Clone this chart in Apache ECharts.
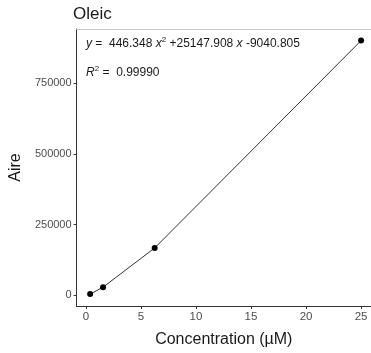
<!DOCTYPE html>
<html><head><meta charset="utf-8">
<script src="https://cdn.jsdelivr.net/npm/echarts@6/dist/echarts.min.js"></script>
<style>html,body{margin:0;padding:0;background:#fff}#c{width:371px;height:353px}</style>
</head><body><div id="c"></div>
<script>
const concentrations = [0.390625, 1.5625, 6.25, 25];
const areas = [4000, 28500, 167000, 900000];
const xTicks = [0, 5, 10, 15, 20, 25];
const yTicks = [0, 250000, 500000, 750000];
const chartTitle = 'Oleic';
const xTitle = 'Concentration (µM)';
const yTitle = 'Aire';

const chart = echarts.init(document.getElementById('c'), null, {renderer: 'canvas'});
const font = 'Liberation Sans, Arial, sans-serif';
const supStyle = {
  i: {fontStyle: 'italic', fontSize: 12, fontFamily: font, fill: '#1a1a1a'},
  s: {fontSize: 8, fontFamily: font, verticalAlign: 'top', padding: [0, 0, 7, 0], fill: '#1a1a1a'}
};
chart.setOption({
  animation: false,
  title: {text: chartTitle, left: 73, top: 6, padding: 0,
    textStyle: {fontFamily: font, fontSize: 17, fontWeight: 'normal', color: '#1a1a1a'}},
  grid: {left: 73, top: 29, right: 0, bottom: 40},
  xAxis: [{
    type: 'value', min: -0.84, max: 25.9,
    name: xTitle, nameLocation: 'middle', nameGap: 26,
    nameTextStyle: {fontFamily: font, fontSize: 16, color: '#1a1a1a'},
    axisLine: {show: true, onZero: false, lineStyle: {color: '#333', width: 1}},
    axisTick: {show: true, length: 3, lineStyle: {color: '#333'}, customValues: xTicks},
    axisLabel: {fontFamily: font, fontSize: 11.5, color: '#4d4d4d', margin: 5, customValues: xTicks},
    splitLine: {show: false}
  }, {
    type: 'value', position: 'top', min: -0.84, max: 25.9,
    axisLine: {show: true, onZero: false, lineStyle: {color: '#c8c8c8', width: 1}},
    axisTick: {show: false}, axisLabel: {show: false}, splitLine: {show: false}
  }],
  yAxis: {
    type: 'value', min: -38000, max: 941000,
    name: yTitle, nameLocation: 'middle', nameGap: 50, nameRotate: 90,
    nameTextStyle: {fontFamily: font, fontSize: 16, color: '#1a1a1a'},
    axisLine: {show: true, onZero: false, lineStyle: {color: '#333', width: 1}},
    axisTick: {show: true, length: 3, lineStyle: {color: '#333'}, customValues: yTicks},
    axisLabel: {fontFamily: font, fontSize: 11, color: '#4d4d4d', margin: 5, customValues: yTicks,
      formatter: v => String(v)},
    splitLine: {show: false}
  },
  graphic: [{
    type: 'text', left: 86, top: 36,
    style: {
      text: '{i|y} =  446.348 {i|x}{s|2} +25147.908 {i|x} -9040.805',
      font: '12px ' + font, fill: '#1a1a1a', rich: supStyle
    }
  }, {
    type: 'text', left: 86, top: 65,
    style: {
      text: '{i|R}{s|2} =  0.99990',
      font: '12px ' + font, fill: '#1a1a1a', rich: supStyle
    }
  }],
  series: [{
    type: 'line', xAxisIndex: 0,
    data: concentrations.map((c, i) => [c, areas[i]]),
    symbol: 'circle', symbolSize: 6,
    itemStyle: {color: '#000'},
    lineStyle: {color: '#333', width: 1}
  }]
});
</script></body></html>
